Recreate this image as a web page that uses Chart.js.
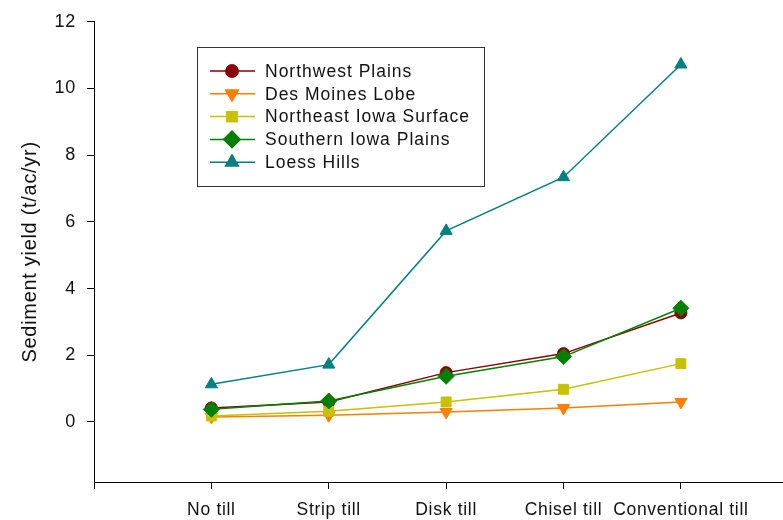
<!DOCTYPE html>
<html>
<head>
<meta charset="utf-8">
<script src="https://cdn.jsdelivr.net/npm/chart.js@4.4.0/dist/chart.umd.min.js"></script>
<style>
  html, body { margin: 0; padding: 0; background: #fff; overflow: hidden; }
  #wrap { width: 783px; height: 520px; overflow: hidden; }
</style>
</head>
<body>
<div id="wrap"><canvas id="lineChart" width="792" height="520"></canvas></div>
<script>
// tillage systems along the x axis
const categories = ['No till', 'Strip till', 'Disk till', 'Chisel till', 'Conventional till'];

// sediment yield, t/ac/yr
const northwestPlains = [0.42, 0.60, 1.48, 2.05, 3.27];
const desMoinesLobe = [0.15, 0.20, 0.30, 0.42, 0.60];
const northeastIowa = [0.18, 0.32, 0.60, 0.98, 1.75];
const southernIowa = [0.38, 0.63, 1.37, 1.96, 3.41];
const loessHills = [1.13, 1.72, 5.73, 7.34, 10.72];

const yTicks = [0, 2, 4, 6, 8, 10, 12];

const font = "'Liberation Sans', Arial, sans-serif";

function toPoints(values) {
    return values.map((v, i) => ({ x: i, y: v }));
}

function series(label, values, color, style, radius, rotation, order) {
    return {
        label: label,
        data: toPoints(values),
        borderColor: color,
        backgroundColor: color,
        pointBackgroundColor: color,
        pointBorderColor: color,
        borderWidth: 1.5,
        pointStyle: style,
        pointRadius: radius,
        pointHoverRadius: radius,
        pointRotation: rotation,
        pointBorderWidth: 1,
        order: order
    };
}

// the reference text is set a bit wider than Liberation Sans
const wideText = {
    id: 'wideText',
    beforeDraw(chart) {
        chart.ctx.letterSpacing = '0.7px';
    }
};

// legend drawn inside the plot, in a box
const boxLegend = {
    id: 'boxLegend',
    afterDraw(chart) {
        const ctx = chart.ctx;
        const x0 = 197, y0 = 47, w = 287, h = 139;
        ctx.save();
        ctx.strokeStyle = '#333';
        ctx.lineWidth = 1;
        ctx.strokeRect(x0 + 0.5, y0 + 0.5, w, h);
        ctx.font = '17.5px ' + font;
        ctx.letterSpacing = '1px';
        ctx.textBaseline = 'middle';
        chart.data.datasets.forEach((ds, i) => {
            const y = 71 + i * 22.8;
            ctx.strokeStyle = ds.borderColor;
            ctx.lineWidth = 1.5;
            ctx.beginPath();
            ctx.moveTo(210, y);
            ctx.lineTo(255, y);
            ctx.stroke();
            Chart.helpers.drawPoint(ctx, {
                pointStyle: ds.pointStyle,
                radius: ds.pointRadius,
                rotation: ds.pointRotation,
                borderWidth: 1
            }, 232, y);
            ctx.fillStyle = ds.borderColor;
            ctx.strokeStyle = ds.borderColor;
            ctx.fill();
            ctx.stroke();
            ctx.fillStyle = '#111';
            ctx.fillText(ds.label, 265, y + 1);
        });
        ctx.restore();
    }
};

const ctx = document.getElementById('lineChart');

window.chart = new Chart(ctx, {
    type: 'line',
    data: {
        datasets: [
            series('Northwest Plains', northwestPlains, '#8b0000', 'circle', 6, 0, 4),
            series('Des Moines Lobe', desMoinesLobe, '#ff7f00', 'triangle', 7, 180, 3),
            series('Northeast Iowa Surface', northeastIowa, '#c8c000', 'rect', 7, 0, 2),
            series('Southern Iowa Plains', southernIowa, '#008000', 'rectRot', 8, 0, 1),
            series('Loess Hills', loessHills, '#008080', 'triangle', 7, 0, 0)
        ]
    },
    options: {
        responsive: false,
        animation: false,
        layout: { padding: { top: 17, right: 0, left: 0, bottom: 0 } },
        plugins: {
            legend: { display: false },
            tooltip: { enabled: false }
        },
        scales: {
            x: {
                type: 'linear',
                min: -1,
                max: 4.87,
                afterBuildTicks: (scale) => {
                    scale.ticks = [-1, 0, 1, 2, 3, 4].map(v => ({ value: v }));
                },
                afterFit: (scale) => {
                    scale.height = 38;
                    scale.paddingLeft = 0;
                    scale.paddingRight = 0;
                },
                grid: { drawOnChartArea: false, drawTicks: true, tickLength: 7, color: '#000' },
                border: { display: true, color: '#000', width: 1 },
                ticks: {
                    autoSkip: false,
                    maxRotation: 0,
                    padding: 11,
                    color: '#111',
                    font: { family: font, size: 17.5 },
                    callback: (v) => (v >= 0 && v < categories.length) ? categories[v] : ''
                }
            },
            y: {
                min: -1.8,
                max: 12,
                afterBuildTicks: (scale) => {
                    scale.ticks = yTicks.map(v => ({ value: v }));
                },
                afterFit: (scale) => { scale.width = 94; },
                grid: { drawOnChartArea: false, drawTicks: true, tickLength: 7, color: '#000' },
                border: { display: true, color: '#000', width: 1 },
                ticks: {
                    padding: 11,
                    color: '#111',
                    font: { family: font, size: 18 }
                },
                title: {
                    display: true,
                    text: 'Sediment yield (t/ac/yr)',
                    color: '#111',
                    font: { family: font, size: 20 },
                    padding: { top: 18, bottom: 0 }
                }
            }
        }
    },
    plugins: [wideText, boxLegend]
});
</script>
</body>
</html>
